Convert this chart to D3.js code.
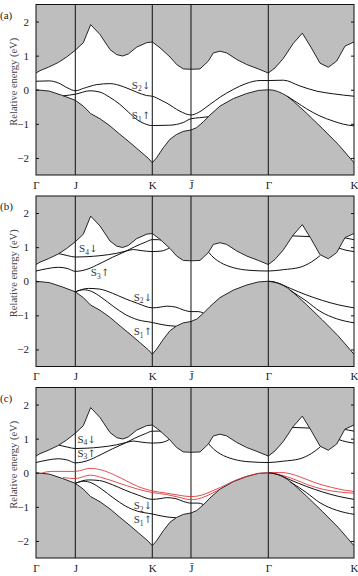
<!DOCTYPE html>
<html><head><meta charset="utf-8">
<script src="https://cdn.jsdelivr.net/npm/d3@7"></script>
<style>
body{margin:0;background:#fff}
svg{display:block}
</style>
</head><body>
<svg id="chart" width="358" height="576"></svg>
<script>
// ---------- data ----------
const symK = [0, 0.1236, 0.3657, 0.4874, 0.7305, 1];
const symLabels = ["Γ", "J", "K", "J\u0304", "Γ", "K"];
const yTicks = [-2, -1, 0, 1, 2];
const panelNames = ["(a)", "(b)", "(c)"];
const axisTitle = "Relative energy (eV)";

// projected bulk band edges [k, E]
const cbEdge = [[0,0.49],[0.0126,0.56],[0.0388,0.66],[0.0702,0.80],[0.0964,0.96],[0.1237,1.16],[0.1488,1.38],[0.1719,1.91],[0.2013,1.62],[0.2327,1.18],[0.2537,1.03],[0.2725,0.99],[0.2904,1.05],[0.3166,1.25],[0.348,1.38],[0.3658,1.40],[0.39,1.23],[0.4214,0.96],[0.4423,0.74],[0.4633,0.61],[0.4874,0.60],[0.5157,0.61],[0.5419,0.84],[0.5577,1.08],[0.5786,1.13],[0.5996,1.08],[0.631,0.89],[0.6625,0.74],[0.6992,0.61],[0.7306,0.49],[0.7516,0.64],[0.7778,0.92],[0.8092,1.36],[0.8375,1.66],[0.8645,1.25],[0.8931,0.78],[0.9193,0.66],[0.9455,0.84],[0.9717,1.28],[1,1.40]];
const vbEdge = [[0,0],[0.042,-0.04],[0.084,-0.17],[0.1237,-0.31],[0.1488,-0.48],[0.1719,-0.70],[0.2013,-0.85],[0.2327,-1.06],[0.2642,-1.31],[0.2956,-1.55],[0.327,-1.80],[0.3532,-2.01],[0.3658,-2.14],[0.3795,-1.99],[0.4004,-1.70],[0.4214,-1.45],[0.4423,-1.31],[0.4633,-1.22],[0.4874,-1.18],[0.5052,-1.11],[0.5262,-0.94],[0.5472,-0.74],[0.5786,-0.48],[0.6205,-0.26],[0.6625,-0.11],[0.6992,-0.02],[0.7306,0],[0.745,-0.01],[0.76,-0.05],[0.775,-0.11],[0.79,-0.19],[0.81,-0.34],[0.85,-0.68],[0.9,-1.13],[0.95,-1.60],[1,-2.14]];

// panel (a) surface bands
const s2a = [[0,0.25],[0.042,0.26],[0.07,0.20],[0.1,0.05],[0.1237,-0.03],[0.149,0.04],[0.191,0.15],[0.233,0.18],[0.2746,0.09],[0.3166,-0.07],[0.348,-0.17],[0.3658,-0.19],[0.39,-0.29],[0.411,-0.39],[0.4528,-0.63],[0.4874,-0.74],[0.51,-0.67],[0.547,-0.43],[0.58,-0.21],[0.6205,0.01],[0.66,0.18],[0.7044,0.27],[0.7306,0.27],[0.7778,0.28],[0.83,0.11],[0.8826,-0.04],[0.935,-0.12],[1,-0.19]];
const s1aLeft = [[0.085,-0.18],[0.1237,-0.13],[0.17,-0.03],[0.2013,-0.07],[0.23,-0.21],[0.264,-0.43],[0.29,-0.65],[0.3166,-0.87],[0.34,-0.99],[0.3658,-1.05],[0.42,-1.04],[0.463,-0.96],[0.4874,-0.85],[0.515,-0.82],[0.542,-0.79]];
const s1aRight = [[0.79,-0.19],[0.82,-0.37],[0.851,-0.56],[0.893,-0.77],[0.935,-0.92],[0.9665,-1.01],[1,-1.06]];

// panels (b),(c) surface bands
const s4Left = [[0.072,0.81],[0.1,0.75],[0.1237,0.71],[0.16,0.72],[0.2013,0.75],[0.2537,0.82],[0.285,0.89],[0.306,0.93],[0.33,0.90],[0.3658,0.87],[0.39,0.88],[0.41,0.93],[0.418,0.97]];
const s3Left = [[0,0.30],[0.035,0.37],[0.07,0.41],[0.1,0.37],[0.1237,0.29],[0.16,0.35],[0.2013,0.52],[0.24,0.70],[0.28,0.87],[0.31,1.01],[0.345,1.15],[0.3658,1.22],[0.385,1.22],[0.392,1.20]];
const s3Right = [[0.543,0.85],[0.56,0.68],[0.58,0.55],[0.62,0.40],[0.673,0.32],[0.7306,0.30],[0.778,0.34],[0.83,0.41],[0.867,0.57],[0.893,0.75]];
const s3Peak = [[0.807,1.33],[0.861,1.31]];
const s3K = [[0.972,1.27],[1,1.22]];
const s4K = [[0.953,0.97],[0.975,0.91],[1,0.87]];
const s2Left = [[0.1237,-0.31],[0.165,-0.21],[0.2,-0.23],[0.24,-0.35],[0.28,-0.51],[0.32,-0.65],[0.3658,-0.78],[0.39,-0.76],[0.411,-0.73],[0.44,-0.76],[0.463,-0.84],[0.4874,-0.89],[0.51,-0.89],[0.526,-0.93]];
const s1Left = [[0.1237,-0.31],[0.15,-0.25],[0.175,-0.30],[0.205,-0.47],[0.245,-0.75],[0.28,-0.97],[0.32,-1.13],[0.3658,-1.21],[0.39,-1.26],[0.415,-1.30],[0.44,-1.32]];
const s2Right = [[0.7306,0],[0.76,-0.05],[0.8,-0.21],[0.85,-0.40],[0.9,-0.56],[0.95,-0.69],[1,-0.78]];
const s1Right = [[0.8,-0.27],[0.85,-0.58],[0.893,-0.88],[0.9455,-1.10],[1,-1.22]];

// panel (c) red bands
const redUpper = [[0.02,0],[0.05,0.04],[0.1237,0.04],[0.17,0.13],[0.21,0.07],[0.25,-0.08],[0.285,-0.24],[0.32,-0.40],[0.3658,-0.53],[0.411,-0.60],[0.45,-0.66],[0.4874,-0.70],[0.52,-0.66],[0.55,-0.55],[0.58,-0.43],[0.62,-0.25],[0.66,-0.11],[0.7,-0.02],[0.7306,0.0],[0.77,0.01],[0.8,-0.03],[0.83,-0.12],[0.88,-0.30],[0.93,-0.43],[0.97,-0.51],[1,-0.55]];
const redLowerLeft = [[0.085,-0.14],[0.1237,-0.17],[0.17,-0.07],[0.21,-0.15],[0.25,-0.27],[0.285,-0.38],[0.32,-0.48],[0.3658,-0.58],[0.411,-0.64],[0.45,-0.72],[0.4874,-0.79],[0.52,-0.74],[0.55,-0.62],[0.575,-0.50]];
const redLowerRight = [[0.74,-0.01],[0.78,-0.09],[0.82,-0.22],[0.851,-0.34],[0.9,-0.48],[0.95,-0.56],[1,-0.60]];

// band labels: [k, E, index, spin]
const labelsA = [[0.33,0.14,"2","↓"],[0.33,-0.75,"1","↑"]];
const labelsB = [[0.164,0.97,"4","↓"],[0.201,0.27,"3","↑"],[0.336,-0.46,"2","↓"],[0.336,-1.46,"1","↑"]];
const labelsC = [[0.159,0.99,"4","↓"],[0.159,0.58,"3","↑"],[0.336,-0.95,"2","↓"],[0.336,-1.36,"1","↑"]];

// ---------- drawing ----------
const SERIF = '"Liberation Serif", "DejaVu Serif", serif';
const ARROWFONT = '"DejaVu Serif", "DejaVu Sans", serif';
const GRAY = "#bebebe", RED = "#e0393b";
const svg = d3.select("#chart");
const x = d3.scaleLinear().domain([0, 1]).range([36, 354]);
const panelTops = [4.5, 196, 387.5];
const H = 170.5;
const fmt = d3.format("d");

const blackA = [s2a, s1aLeft, s1aRight];
const blackBC = [s4Left, s3Left, s3Right, s3Peak, s3K, s4K, s2Left, s1Left, s2Right, s1Right];
const panelBands = [
  {black: blackA, red: [], labels: labelsA},
  {black: blackBC, red: [], labels: labelsB},
  {black: blackBC, red: [redUpper, redLowerLeft, redLowerRight], labels: labelsC}
];

panelBands.forEach((pb, i) => {
  const top = panelTops[i];
  const y = d3.scaleLinear().domain([-2.5, 2.5]).range([top + H, top]);
  const g = svg.append("g");
  const clipId = "clip" + i;
  svg.append("clipPath").attr("id", clipId).append("rect")
    .attr("x", 36).attr("y", top).attr("width", 318).attr("height", H);
  const gp = g.append("g").attr("clip-path", `url(#${clipId})`);

  gp.append("path").datum(cbEdge)
    .attr("d", d3.area().x(d => x(d[0])).y0(top).y1(d => y(d[1])))
    .attr("fill", GRAY);
  gp.append("path").datum(vbEdge)
    .attr("d", d3.area().x(d => x(d[0])).y0(top + H).y1(d => y(d[1])))
    .attr("fill", GRAY);

  const line = d3.line().x(d => x(d[0])).y(d => y(d[1]));
  const sline = d3.line().x(d => x(d[0])).y(d => y(d[1])).curve(d3.curveMonotoneX);

  [cbEdge, vbEdge].forEach(e => gp.append("path").datum(e).attr("d", line)
    .attr("fill", "none").attr("stroke", "#111").attr("stroke-width", 0.9));

  symK.slice(1, -1).forEach(k => gp.append("line")
    .attr("x1", x(k)).attr("x2", x(k)).attr("y1", top).attr("y2", top + H)
    .attr("stroke", "#111").attr("stroke-width", 1));

  pb.red.forEach(b => gp.append("path").datum(b).attr("d", sline)
    .attr("fill", "none").attr("stroke", RED).attr("stroke-width", 0.9));
  pb.black.forEach(b => gp.append("path").datum(b).attr("d", sline)
    .attr("fill", "none").attr("stroke", "#111").attr("stroke-width", 1));

  g.append("rect").attr("x", 36).attr("y", top).attr("width", 318).attr("height", H)
    .attr("fill", "none").attr("stroke", "#111").attr("stroke-width", 1);

  // y axis
  const ya = g.append("g").attr("transform", "translate(36,0)")
    .call(d3.axisLeft(y).tickValues(yTicks).tickSize(-3).tickPadding(7).tickFormat(fmt));
  ya.attr("font-family", null);
  ya.select(".domain").remove();
  ya.selectAll("text").attr("font-size", 11).style("font-family", SERIF).attr("fill", "#222");
  ya.selectAll("line").attr("stroke", "#111");
  const yr = g.append("g").attr("transform", "translate(354,0)")
    .call(d3.axisRight(y).tickValues(yTicks).tickSize(-3).tickFormat(""));
  yr.select(".domain").remove();
  yr.selectAll("line").attr("stroke", "#111");

  // x axis labels
  const xa = g.append("g").attr("transform", `translate(0,${top + H})`)
    .call(d3.axisBottom(x).tickValues(symK).tickSize(0).tickPadding(6).tickFormat((d, j) => symLabels[j]));
  xa.select(".domain").remove();
  xa.selectAll("text").attr("font-size", 11).style("font-family", SERIF).attr("fill", "#222");

  // panel label
  g.append("text").attr("x", 0).attr("y", top + 14).attr("font-size", 11)
    .style("font-family", SERIF).attr("fill", "#222").text(panelNames[i]);

  // axis title
  g.append("text").attr("transform", `translate(13,${top + H / 2 - 8}) rotate(-90)`)
    .attr("text-anchor", "middle").attr("dominant-baseline", "central")
    .attr("font-size", 10.5).style("font-family", SERIF).attr("fill", "#444").text(axisTitle);

  // band labels
  pb.labels.forEach(l => {
    const t = g.append("text").attr("x", x(l[0])).attr("y", y(l[1]) + 4)
      .attr("text-anchor", "middle").attr("font-size", 11).style("font-family", SERIF).attr("fill", "#333");
    t.append("tspan").text("S");
    t.append("tspan").attr("font-size", 7.5).attr("dy", 2.5).text(l[2]);
    t.append("tspan").attr("dy", -2.5).style("font-family", ARROWFONT).attr("font-size", 10).text(l[3]);
  });
});
</script>
</body></html>
